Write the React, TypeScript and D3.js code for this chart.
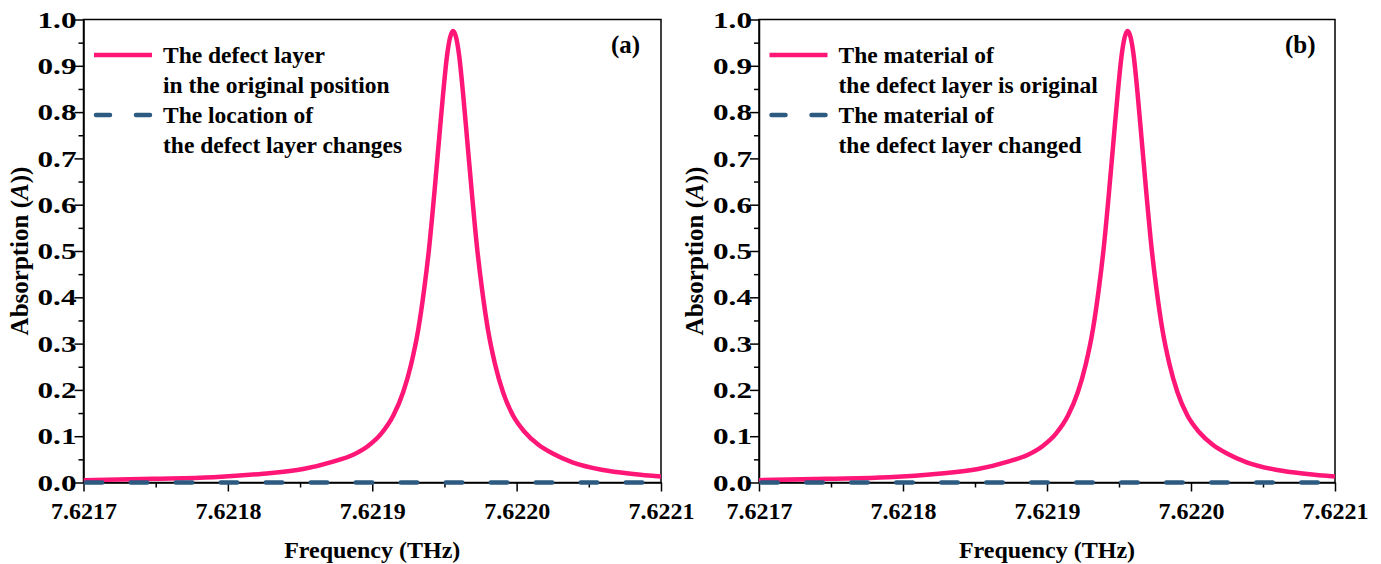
import React, { useEffect, useRef } from "react";
import * as d3 from "d3";

// Absorption spectrum with the defect layer in its original state
const frequency = [
  7.6217, 7.6217482, 7.6217898, 7.6218244, 7.6218521, 7.6218729, 7.6218868,
  7.6218971, 7.6219061, 7.6219145, 7.6219214, 7.6219269, 7.6219318, 7.6219359,
  7.6219394, 7.6219428, 7.6219463, 7.6219491, 7.6219518, 7.6219539, 7.621956,
  7.6219581, 7.6219602, 7.6219629, 7.6219657, 7.6219692, 7.6219726, 7.6219761,
  7.6219802, 7.6219851, 7.6219906, 7.6219976, 7.6220059, 7.6220149, 7.6220253,
  7.6220391, 7.6220599, 7.6220807, 7.6221,
];
const absorptionOriginal = [
  0.005, 0.008, 0.0115, 0.019, 0.029, 0.045, 0.06, 0.079, 0.105, 0.144, 0.195,
  0.255, 0.329, 0.416, 0.507, 0.618, 0.742, 0.84, 0.922, 0.961, 0.975, 0.961,
  0.922, 0.84, 0.742, 0.618, 0.507, 0.416, 0.329, 0.255, 0.195, 0.144, 0.108,
  0.082, 0.062, 0.043, 0.027, 0.0185, 0.013,
];

// Absorption after the defect layer is moved / its material replaced
const frequencyChanged = [7.6217, 7.6218, 7.6219, 7.622, 7.6221];
const absorptionChanged = [0, 0, 0, 0, 0];

const xTicks = [7.6217, 7.6218, 7.6219, 7.622, 7.6221];
const xMinorTicks = [7.62175, 7.62185, 7.62195, 7.62205];
const yTicks = [0, 0.1, 0.2, 0.3, 0.4, 0.5, 0.6, 0.7, 0.8, 0.9, 1.0];
const yMinorTicks = [0.05, 0.15, 0.25, 0.35, 0.45, 0.55, 0.65, 0.75, 0.85, 0.95];

const panelTags = ["(a)", "(b)"];
const legendSolid = [
  ["The defect layer", "in the original position"],
  ["The material of", "the defect layer is original"],
];
const legendDashed = [
  ["The location of", "the defect layer changes"],
  ["The material of", "the defect layer changed"],
];

const W = 1381;
const H = 564;
const PINK = "#ff1677";
const BLUE = "#2c5a80";
const FONT = "Liberation Serif";

const panelsX = [
  [83.5, 661],
  [759, 1335],
];
const TOP = 19.5;
const BOTTOM = 482.5;

export default function App() {
  const ref = useRef<SVGSVGElement | null>(null);

  useEffect(() => {
    const svg = d3.select(ref.current);
    svg.selectAll("*").remove();

    const label = (sel: any, size: number) =>
      sel
        .attr("font-family", FONT)
        .attr("font-weight", "bold")
        .attr("font-size", size)
        .attr("fill", "#000");

    panelsX.forEach(([x0, x1], i) => {
      const x = d3.scaleLinear().domain([7.6217, 7.6221]).range([x0, x1]);
      const y = d3.scaleLinear().domain([0, 1]).range([BOTTOM, TOP]);
      const g = svg.append("g");

      const clipId = `clip-${i}`;
      g.append("clipPath")
        .attr("id", clipId)
        .append("rect")
        .attr("x", x0)
        .attr("y", TOP - 10)
        .attr("width", x1 - x0)
        .attr("height", BOTTOM - TOP + 20);

      // frame
      g.append("rect")
        .attr("x", x0)
        .attr("y", TOP)
        .attr("width", x1 - x0)
        .attr("height", BOTTOM - TOP)
        .attr("fill", "none")
        .attr("stroke", "#000")
        .attr("stroke-width", 1.5);

      const styleAxis = (sel: any) => {
        sel.attr("font-family", FONT).attr("font-size", 24).attr("font-weight", "bold");
        sel.selectAll(".domain").attr("stroke", "#000").attr("stroke-width", 1.5);
        sel.selectAll(".tick line").attr("stroke", "#000").attr("stroke-width", 1.5);
        sel.selectAll(".tick text").attr("fill", "#000");
      };

      // x axis: minor then major ticks
      g.append("g")
        .attr("transform", `translate(0,${BOTTOM})`)
        .call(d3.axisBottom(x).tickValues(xMinorTicks).tickSize(5).tickFormat(() => ""))
        .call((s: any) => s.select(".domain").remove())
        .call(styleAxis);
      g.append("g")
        .attr("transform", `translate(0,${BOTTOM})`)
        .call(
          d3
            .axisBottom(x)
            .tickValues(xTicks)
            .tickSize(9)
            .tickSizeOuter(0)
            .tickPadding(10)
            .tickFormat((d: any) => d3.format(".4f")(d))
        )
        .call(styleAxis);

      // y axis: minor then major ticks
      g.append("g")
        .attr("transform", `translate(${x0},0)`)
        .call(d3.axisLeft(y).tickValues(yMinorTicks).tickSize(5).tickFormat(() => ""))
        .call((s: any) => s.select(".domain").remove())
        .call(styleAxis);
      const ya = g
        .append("g")
        .attr("transform", `translate(${x0},0)`)
        .call(
          d3
            .axisLeft(y)
            .tickValues(yTicks)
            .tickSize(9)
            .tickSizeOuter(0)
            .tickPadding(0)
            .tickFormat((d: any) => d3.format(".1f")(d))
        )
        .call(styleAxis);
      // y tick labels are drawn slightly widened
      ya.selectAll(".tick text")
        .attr("x", null)
        .attr("transform", "translate(-7,0) scale(1.3,1)");

      // axis titles
      g.append("text")
        .attr("x", (x0 + x1) / 2)
        .attr("y", 558)
        .attr("text-anchor", "middle")
        .call(label, 24)
        .text("Frequency (THz)");

      const yt = g
        .append("text")
        .attr("transform", `translate(${x0 - 56},${(TOP + BOTTOM) / 2}) rotate(-90)`)
        .attr("text-anchor", "middle")
        .call(label, 25);
      yt.append("tspan").text("Absorption (");
      yt.append("tspan").attr("font-style", "italic").text("A");
      yt.append("tspan").text("))");

      // curves
      const line = d3
        .line<[number, number]>()
        .x((d) => x(d[0]))
        .y((d) => y(d[1]))
        .curve(d3.curveMonotoneX);

      const plot = g.append("g").attr("clip-path", `url(#${clipId})`);
      plot
        .append("path")
        .attr("d", line(frequency.map((f, k) => [f, absorptionOriginal[k]]) as any))
        .attr("fill", "none")
        .attr("stroke", PINK)
        .attr("stroke-width", 4.5);
      plot
        .append("path")
        .attr("d", line(frequencyChanged.map((f, k) => [f, absorptionChanged[k]]) as any))
        .attr("fill", "none")
        .attr("stroke", BLUE)
        .attr("stroke-width", 4.5)
        .attr("stroke-linecap", "round")
        .attr("stroke-dasharray", "16.5 28.5")
        .attr("stroke-dashoffset", -2.25);

      // legend
      const lx0 = x0 + 10.5;
      const lx1 = x0 + 68.5;
      const tx = x0 + 79.5;
      const rows = [
        { lines: legendSolid[i], color: PINK, dash: null as string | null, y: TOP + 35.5 },
        { lines: legendDashed[i], color: BLUE, dash: "14 26", y: TOP + 95.5 },
      ];
      rows.forEach((r) => {
        g.append("line")
          .attr("x1", lx0 + (r.dash ? 2 : 0))
          .attr("x2", lx1 - (r.dash ? 2 : 0))
          .attr("y1", r.y)
          .attr("y2", r.y)
          .attr("stroke", r.color)
          .attr("stroke-width", 4.5)
          .attr("stroke-linecap", r.dash ? "round" : "butt")
          .attr("stroke-dasharray", r.dash);
        r.lines.forEach((t, k) => {
          g.append("text")
            .attr("x", tx)
            .attr("y", r.y + 8 + k * 30)
            .call(label, 23.5)
            .text(t);
        });
      });

      // panel tag
      g.append("text")
        .attr("x", x1 - 50)
        .attr("y", TOP + 33)
        .call(label, 25)
        .text(panelTags[i]);
    });
  }, []);

  return (
    <div style={{ position: "absolute", left: 0, top: 0 }}>
      <svg ref={ref} width={W} height={H} style={{ display: "block", background: "#fff" }} />
    </div>
  );
}
